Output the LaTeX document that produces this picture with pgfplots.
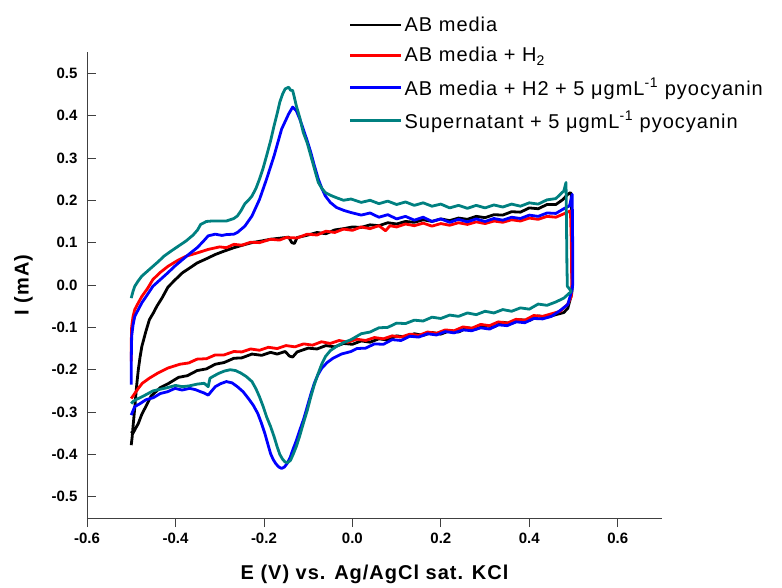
\documentclass[border=0pt]{standalone}
\usepackage{pgfplots}
\pgfplotsset{compat=1.18}
\usepackage{fontspec}
\setmainfont{Liberation Sans}
\newfontfamily\wideface[LetterSpace=5]{Liberation Sans}
\definecolor{cvteal}{RGB}{0,128,128}
\begin{document}
\begin{tikzpicture}
\begin{axis}[
    scale only axis, width=575pt, height=466pt,
    xmin=-0.6, xmax=0.7, ymin=-0.55, ymax=0.55,
    axis x line*=bottom, axis y line*=left,
    axis line style={-, line width=0.8pt, black!75},
    xtick={-0.6,-0.4,...,0.6}, ytick={-0.5,-0.4,...,0.5},
    xtick align=outside, ytick align=inside,
    major tick length=9pt,
    tick style={line width=0.8pt, black!75},
    minor tick num=0,
    /pgf/number format/assume math mode=true,
    /pgf/number format/.cd, fixed, fixed zerofill, precision=1, /pgfplots/.cd,
    tick label style={font=\bfseries\fontsize{15}{17}\selectfont},
    xticklabel style={yshift=-2pt},
    yticklabel style={xshift=-6pt},
    xlabel={E (V) vs. Ag/AgCl sat. KCl},
    ylabel={I (mA)},
    label style={font=\wideface\bfseries\fontsize{20}{23}\selectfont},
    xlabel style={yshift=-15pt},
    ylabel style={yshift=12pt},
    legend style={at={(0.455,1.080)}, anchor=north west, draw=none, fill=none,
        font=\wideface\fontsize{20}{23}\selectfont, row sep=10.5pt, inner sep=0pt,
        /tikz/every even column/.append style={column sep=8pt}},
    legend cell align=left,
    legend image code/.code={\draw[#1] (0pt,0pt) -- (51pt,0pt);},
    every axis plot/.append style={line width=2.8pt, line join=round},
    clip=false,
]
\addplot[black] coordinates {
(-0.500,-0.378) (-0.498,-0.360) (-0.496,-0.335) (-0.492,-0.290) (-0.488,-0.240)
(-0.484,-0.200) (-0.480,-0.170) (-0.476,-0.145) (-0.467,-0.110) (-0.459,-0.082)
(-0.450,-0.066) (-0.442,-0.050) (-0.430,-0.030) (-0.417,-0.005) (-0.401,0.012)
(-0.384,0.029) (-0.368,0.040) (-0.351,0.052) (-0.330,0.062) (-0.310,0.072)
(-0.290,0.080) (-0.268,0.088) (-0.245,0.095) (-0.227,0.100) (-0.205,0.104)
(-0.185,0.108) (-0.160,0.111) (-0.144,0.113) (-0.137,0.100) (-0.131,0.098)
(-0.125,0.112) (-0.100,0.118) (-0.080,0.124) (-0.060,0.121) (-0.040,0.130)
(-0.020,0.133) (0.000,0.137) (0.020,0.136) (0.040,0.142) (0.060,0.140)
(0.080,0.147) (0.100,0.144) (0.120,0.150) (0.140,0.148) (0.160,0.154)
(0.180,0.150) (0.200,0.156) (0.220,0.152) (0.240,0.158) (0.260,0.155)
(0.280,0.162) (0.300,0.159) (0.320,0.166) (0.340,0.165) (0.360,0.173)
(0.380,0.172) (0.400,0.182) (0.420,0.180) (0.440,0.190) (0.460,0.190)
(0.475,0.201) (0.487,0.214) (0.493,0.218)
(0.495,0.215) (0.496,0.100) (0.497,0.000) (0.496,-0.020)
(0.487,-0.055) (0.478,-0.065) (0.460,-0.070) (0.440,-0.076) (0.420,-0.073)
(0.400,-0.084) (0.380,-0.082) (0.360,-0.091) (0.340,-0.088) (0.320,-0.099)
(0.300,-0.096) (0.280,-0.104) (0.260,-0.101) (0.240,-0.111) (0.220,-0.108)
(0.200,-0.116) (0.180,-0.112) (0.160,-0.119) (0.140,-0.115) (0.120,-0.123)
(0.100,-0.120) (0.080,-0.130) (0.060,-0.127) (0.040,-0.135) (0.020,-0.132)
(0.000,-0.140) (-0.020,-0.138) (-0.040,-0.146) (-0.060,-0.143) (-0.080,-0.151)
(-0.100,-0.149) (-0.125,-0.158) (-0.135,-0.170) (-0.142,-0.168) (-0.152,-0.157)
(-0.170,-0.163) (-0.185,-0.159) (-0.205,-0.166) (-0.227,-0.163) (-0.250,-0.172)
(-0.268,-0.173) (-0.290,-0.183) (-0.310,-0.187) (-0.330,-0.198) (-0.351,-0.202)
(-0.373,-0.214) (-0.393,-0.218) (-0.415,-0.232) (-0.434,-0.242) (-0.455,-0.262)
(-0.467,-0.287) (-0.476,-0.305) (-0.484,-0.327) (-0.490,-0.338) (-0.496,-0.350)
(-0.500,-0.345)
};
\addlegendentry{AB media}
\addplot[red] coordinates {
(-0.500,-0.180) (-0.500,-0.140) (-0.499,-0.098) (-0.496,-0.075) (-0.492,-0.058)
(-0.484,-0.042) (-0.476,-0.027) (-0.463,-0.008) (-0.451,0.013) (-0.434,0.030)
(-0.417,0.044) (-0.395,0.058) (-0.376,0.068) (-0.350,0.076) (-0.326,0.084)
(-0.300,0.090) (-0.285,0.088) (-0.268,0.096) (-0.250,0.094) (-0.230,0.101)
(-0.210,0.100) (-0.185,0.108) (-0.165,0.106) (-0.150,0.112) (-0.125,0.111)
(-0.102,0.120) (-0.080,0.118) (-0.060,0.127) (-0.040,0.124) (-0.020,0.132)
(0.000,0.129) (0.020,0.137) (0.040,0.133) (0.060,0.140) (0.075,0.128)
(0.085,0.140) (0.100,0.137) (0.120,0.144) (0.140,0.140) (0.160,0.146)
(0.180,0.139) (0.200,0.145) (0.220,0.141) (0.240,0.147) (0.260,0.143)
(0.280,0.149) (0.300,0.145) (0.320,0.151) (0.340,0.148) (0.360,0.154)
(0.380,0.151) (0.400,0.158) (0.420,0.155) (0.440,0.162) (0.460,0.160)
(0.478,0.168) (0.493,0.175) (0.495,0.100) (0.496,0.000)
(0.495,-0.027) (0.487,-0.045) (0.470,-0.062) (0.450,-0.068) (0.430,-0.074)
(0.410,-0.072) (0.390,-0.083) (0.370,-0.081) (0.350,-0.090) (0.330,-0.087)
(0.310,-0.096) (0.290,-0.093) (0.270,-0.102) (0.250,-0.099) (0.230,-0.108)
(0.210,-0.106) (0.190,-0.114) (0.170,-0.111) (0.150,-0.119) (0.130,-0.116)
(0.110,-0.123) (0.090,-0.120) (0.070,-0.127) (0.050,-0.124) (0.030,-0.131)
(0.010,-0.128) (-0.010,-0.135) (-0.030,-0.131) (-0.050,-0.138) (-0.070,-0.134)
(-0.090,-0.142) (-0.110,-0.139) (-0.130,-0.146) (-0.150,-0.143) (-0.170,-0.150)
(-0.190,-0.147) (-0.210,-0.154) (-0.230,-0.151) (-0.250,-0.158) (-0.268,-0.157)
(-0.290,-0.165) (-0.310,-0.165) (-0.330,-0.174) (-0.351,-0.175) (-0.370,-0.184)
(-0.390,-0.187) (-0.417,-0.196) (-0.440,-0.208) (-0.459,-0.220) (-0.475,-0.232)
(-0.484,-0.244) (-0.492,-0.256) (-0.500,-0.268)
};
\addlegendentry{AB media + H\textsubscript{2}}
\addplot[blue] coordinates {
(-0.500,-0.235) (-0.500,-0.180) (-0.499,-0.121) (-0.496,-0.095) (-0.492,-0.074)
(-0.484,-0.058) (-0.476,-0.042) (-0.463,-0.022) (-0.451,-0.003) (-0.434,0.013)
(-0.417,0.029) (-0.401,0.045) (-0.384,0.060) (-0.368,0.074) (-0.351,0.088)
(-0.338,0.102) (-0.326,0.116) (-0.310,0.120) (-0.295,0.117) (-0.285,0.119)
(-0.268,0.120) (-0.260,0.124) (-0.243,0.139) (-0.227,0.163) (-0.210,0.202)
(-0.194,0.250) (-0.177,0.305) (-0.160,0.368) (-0.148,0.395) (-0.144,0.404)
(-0.135,0.420) (-0.131,0.416) (-0.127,0.412) (-0.119,0.392) (-0.111,0.368)
(-0.102,0.340) (-0.094,0.313) (-0.086,0.282) (-0.077,0.250) (-0.069,0.228)
(-0.061,0.210) (-0.050,0.195) (-0.036,0.183) (-0.019,0.176) (-0.003,0.171)
(0.020,0.165) (0.040,0.170) (0.060,0.160) (0.080,0.166) (0.100,0.156)
(0.120,0.162) (0.140,0.153) (0.160,0.160) (0.180,0.150) (0.200,0.156)
(0.220,0.148) (0.240,0.155) (0.260,0.149) (0.280,0.156) (0.300,0.150)
(0.320,0.157) (0.340,0.153) (0.360,0.160) (0.380,0.157) (0.400,0.165)
(0.420,0.162) (0.440,0.170) (0.460,0.169) (0.478,0.180) (0.491,0.187)
(0.497,0.214) (0.498,0.100) (0.498,0.000) (0.497,-0.010)
(0.487,-0.046) (0.470,-0.060) (0.450,-0.074) (0.430,-0.080) (0.410,-0.079)
(0.390,-0.089) (0.370,-0.087) (0.350,-0.096) (0.330,-0.094) (0.310,-0.104)
(0.290,-0.101) (0.270,-0.108) (0.250,-0.106) (0.230,-0.113) (0.210,-0.110)
(0.190,-0.118) (0.170,-0.115) (0.150,-0.123) (0.130,-0.121) (0.110,-0.131)
(0.090,-0.129) (0.070,-0.140) (0.050,-0.139) (0.030,-0.149) (0.010,-0.150)
(-0.003,-0.157) (-0.025,-0.163) (-0.044,-0.173) (-0.057,-0.183) (-0.069,-0.196)
(-0.078,-0.212) (-0.086,-0.232) (-0.094,-0.258) (-0.102,-0.287) (-0.110,-0.316)
(-0.119,-0.343) (-0.127,-0.368) (-0.135,-0.390) (-0.141,-0.408) (-0.148,-0.422)
(-0.154,-0.430) (-0.160,-0.433) (-0.166,-0.430) (-0.173,-0.422) (-0.179,-0.412)
(-0.185,-0.398) (-0.191,-0.376) (-0.198,-0.350) (-0.206,-0.325) (-0.214,-0.303)
(-0.224,-0.284) (-0.235,-0.268) (-0.247,-0.252) (-0.260,-0.240) (-0.272,-0.231)
(-0.285,-0.228) (-0.298,-0.233) (-0.310,-0.240) (-0.318,-0.250) (-0.326,-0.260)
(-0.335,-0.255) (-0.343,-0.252) (-0.355,-0.247) (-0.368,-0.244) (-0.385,-0.248)
(-0.401,-0.244) (-0.418,-0.252) (-0.434,-0.256) (-0.450,-0.266) (-0.467,-0.271)
(-0.480,-0.280) (-0.492,-0.287) (-0.500,-0.307)
};
\addlegendentry{AB media + H2 + 5 μgmL\textsuperscript{-1} pyocyanin}
\addplot[cvteal] coordinates {
(-0.500,-0.031) (-0.496,-0.015) (-0.492,-0.003) (-0.484,0.010) (-0.476,0.021)
(-0.463,0.033) (-0.451,0.044) (-0.438,0.056) (-0.426,0.068) (-0.410,0.080)
(-0.393,0.092) (-0.376,0.104) (-0.360,0.118) (-0.350,0.130) (-0.343,0.143)
(-0.330,0.150) (-0.318,0.151) (-0.300,0.151) (-0.285,0.151) (-0.268,0.157)
(-0.260,0.163) (-0.252,0.175) (-0.243,0.192) (-0.235,0.200) (-0.227,0.210)
(-0.218,0.228) (-0.210,0.250) (-0.202,0.275) (-0.194,0.305) (-0.185,0.340)
(-0.177,0.376) (-0.170,0.405) (-0.164,0.432) (-0.158,0.450) (-0.152,0.463)
(-0.144,0.467) (-0.140,0.460) (-0.135,0.459) (-0.131,0.442) (-0.127,0.424)
(-0.119,0.395) (-0.111,0.360) (-0.102,0.335) (-0.094,0.305) (-0.086,0.275)
(-0.077,0.242) (-0.069,0.228) (-0.061,0.218) (-0.050,0.212) (-0.036,0.206)
(-0.020,0.200) (-0.003,0.203) (0.020,0.195) (0.040,0.200) (0.060,0.192)
(0.080,0.198) (0.100,0.190) (0.120,0.196) (0.140,0.188) (0.160,0.194)
(0.180,0.186) (0.200,0.191) (0.220,0.182) (0.240,0.188) (0.260,0.181)
(0.280,0.188) (0.300,0.182) (0.320,0.189) (0.340,0.184) (0.360,0.191)
(0.380,0.186) (0.400,0.194) (0.420,0.191) (0.440,0.201) (0.460,0.204)
(0.470,0.214) (0.478,0.222) (0.483,0.242)
(0.484,0.150) (0.485,0.050) (0.486,-0.003) (0.495,-0.015)
(0.478,-0.031) (0.460,-0.040) (0.440,-0.048) (0.420,-0.045) (0.400,-0.057)
(0.380,-0.054) (0.360,-0.062) (0.340,-0.058) (0.320,-0.066) (0.300,-0.062)
(0.280,-0.070) (0.260,-0.066) (0.240,-0.074) (0.220,-0.071) (0.200,-0.079)
(0.180,-0.076) (0.160,-0.085) (0.140,-0.083) (0.120,-0.091) (0.100,-0.090)
(0.080,-0.100) (0.060,-0.101) (0.040,-0.111) (0.020,-0.115) (-0.003,-0.129)
(-0.020,-0.136) (-0.036,-0.145) (-0.050,-0.155) (-0.061,-0.169) (-0.069,-0.186)
(-0.077,-0.208) (-0.086,-0.235) (-0.094,-0.264) (-0.102,-0.296) (-0.111,-0.327)
(-0.119,-0.356) (-0.127,-0.382) (-0.134,-0.400) (-0.140,-0.414) (-0.146,-0.419)
(-0.152,-0.418) (-0.158,-0.411) (-0.164,-0.400) (-0.170,-0.382) (-0.177,-0.358)
(-0.185,-0.334) (-0.194,-0.311) (-0.202,-0.286) (-0.210,-0.264) (-0.218,-0.245)
(-0.227,-0.228) (-0.240,-0.216) (-0.252,-0.208) (-0.264,-0.202) (-0.276,-0.200)
(-0.289,-0.203) (-0.301,-0.208) (-0.312,-0.214) (-0.322,-0.220) (-0.326,-0.240)
(-0.335,-0.232) (-0.351,-0.234) (-0.368,-0.238) (-0.384,-0.240) (-0.400,-0.237)
(-0.417,-0.242) (-0.434,-0.246) (-0.451,-0.250) (-0.465,-0.258) (-0.476,-0.264)
(-0.488,-0.270) (-0.496,-0.275) (-0.500,-0.280)
};
\addlegendentry{Supernatant + 5 μgmL\textsuperscript{-1} pyocyanin}
\coordinate (bbl) at (rel axis cs:-0.1513,-0.148);
\coordinate (btr) at (rel axis cs:1.2087,1.1116);
\end{axis}
\path (bbl) rectangle (btr);
\end{tikzpicture}
\end{document}
